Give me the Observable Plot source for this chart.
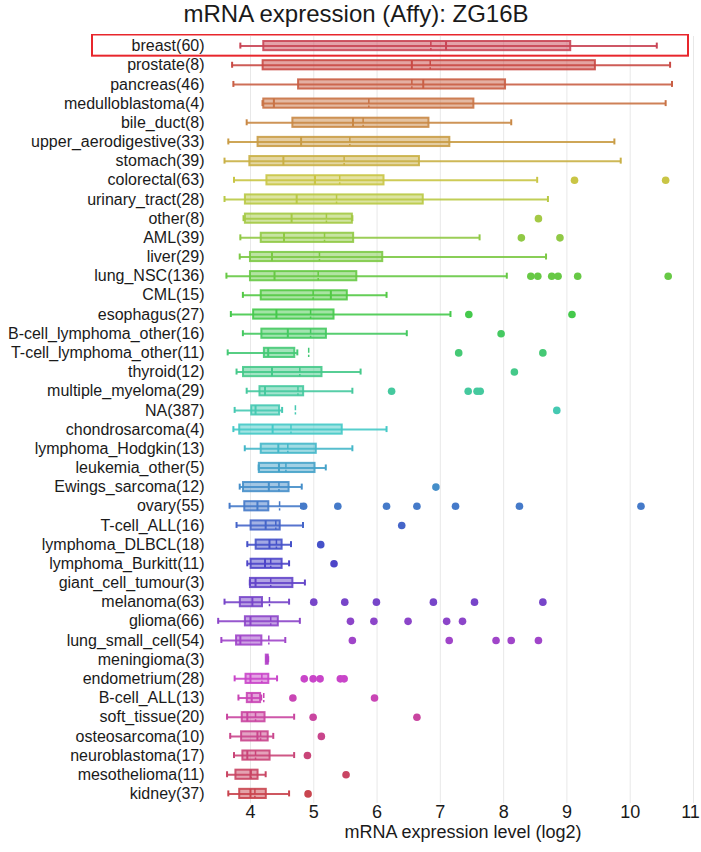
<!DOCTYPE html>
<html>
<head>
<meta charset="utf-8">
<script src="https://cdn.jsdelivr.net/npm/d3@7"></script>
<script src="https://cdn.jsdelivr.net/npm/@observablehq/plot@0.6"></script>
<style>
  html, body { margin: 0; padding: 0; background: #fff; }
  #title { height: 34px; line-height: 34px; font: 24px "Liberation Sans", Arial, sans-serif; color: #1a1a1a; text-align: center; padding-left: 11px; width: 690px; }
  #chart svg { display: block; }
</style>
</head>
<body>
<div id="title"></div>
<div id="chart"></div>
<script>
const title = "mRNA expression (Affy): ZG16B";
const xLabel = "mRNA expression level (log2)";
const xTicks = [4, 5, 6, 7, 8, 9, 10, 11];

const categories = ["breast","prostate","pancreas","medulloblastoma","bile_duct","upper_aerodigestive","stomach","colorectal","urinary_tract","other","AML","liver","lung_NSC","CML","esophagus","B-cell_lymphoma_other","T-cell_lymphoma_other","thyroid","multiple_myeloma","NA","chondrosarcoma","lymphoma_Hodgkin","leukemia_other","Ewings_sarcoma","ovary","T-cell_ALL","lymphoma_DLBCL","lymphoma_Burkitt","giant_cell_tumour","melanoma","glioma","lung_small_cell","meningioma","endometrium","B-cell_ALL","soft_tissue","osteosarcoma","neuroblastoma","mesothelioma","kidney"];
const counts = [60,8,46,4,8,33,39,63,28,8,39,29,136,15,27,16,11,12,29,387,4,13,5,12,55,16,18,11,3,63,66,54,3,28,13,20,10,17,11,37];

const q1 =          [4.21,4.20,4.76,4.21,4.67,4.12,3.99,4.26,3.92,3.92,4.17,4.00,4.00,4.17,4.05,4.18,4.22,3.89,4.15,4.02,3.83,4.17,4.14,3.89,3.91,4.01,4.09,4.01,4.00,3.84,3.92,3.78,4.25,3.93,3.95,3.87,3.86,3.88,3.77,3.83];
const median =      [7.09,6.55,6.73,4.37,5.62,4.80,4.52,5.02,4.73,4.65,4.53,4.34,4.38,5.27,4.41,4.59,4.28,4.34,4.23,4.08,4.35,4.44,4.45,4.29,4.11,4.24,4.30,4.23,4.08,4.03,4.00,3.84,4.265,4.00,4.02,3.95,4.11,3.95,4.00,4.00];
const q3 =          [9.06,9.45,8.03,7.53,6.82,7.15,6.67,6.11,6.73,5.61,5.63,6.09,5.68,5.53,5.32,5.20,4.70,5.13,4.84,4.46,5.45,5.04,5.02,4.61,4.29,4.47,4.50,4.50,4.67,4.19,4.44,4.18,4.28,4.29,4.16,4.23,4.28,4.31,4.12,4.25];
const mean =        [6.85,6.84,6.55,5.87,5.78,5.57,5.48,5.41,5.36,5.20,5.17,5.09,5.07,4.99,4.95,4.95,4.92,4.78,4.75,4.71,4.64,4.59,4.56,4.45,4.46,4.40,4.41,4.32,4.32,4.30,4.32,4.29,4.27,4.18,4.21,4.08,4.16,4.08,4.01,4.07];
const whiskerLow =  [3.84,3.71,3.73,4.19,3.94,3.65,3.59,3.74,3.59,3.89,3.84,3.83,3.62,3.88,3.69,3.88,3.64,3.78,3.94,3.75,3.73,3.91,4.13,3.83,3.67,3.78,3.95,3.95,3.99,3.59,3.49,3.54,4.25,3.75,3.81,3.63,3.68,3.74,3.63,3.65];
const whiskerHigh = [10.42,10.63,10.66,10.56,8.12,9.75,9.85,8.53,8.70,5.61,7.62,8.67,8.05,6.15,7.16,6.47,4.74,5.74,5.61,4.50,6.15,5.61,5.19,4.81,4.80,4.83,4.64,4.61,4.86,4.61,4.78,4.55,4.28,4.42,4.17,4.69,4.36,4.69,4.24,4.61];
const outliers = [
  [], [], [], [], [], [], [],
  [9.12, 10.56],
  [],
  [8.55],
  [8.28, 8.89],
  [],
  [8.43, 8.54, 8.76, 8.86, 9.17, 10.60],
  [],
  [7.45, 9.08],
  [7.96],
  [7.29, 8.62],
  [8.17],
  [6.23, 7.44, 7.58, 7.63],
  [8.84],
  [], [], [],
  [6.93],
  [4.84, 5.38, 6.15, 6.63, 7.24, 8.25, 10.17],
  [6.39],
  [5.11],
  [5.32],
  [],
  [5.00, 5.49, 5.99, 6.89, 7.54, 8.62],
  [5.58, 5.95, 6.49, 7.10, 7.35],
  [5.61, 7.14, 7.88, 8.12, 8.55],
  [],
  [4.85, 4.99, 5.10, 5.42, 5.48],
  [4.67, 5.96],
  [4.99, 6.63],
  [5.12],
  [4.90],
  [5.51],
  [4.91]
];

const labels = categories.map((c, i) => `${c}(${counts[i]})`);
const colors = labels.map((_, i) => d3.hsl((353 + i * 9.3) % 360, 0.55, 0.53).formatHex());
const rows = labels.map((label, i) => ({
  label, q1: q1[i], median: median[i], q3: q3[i], mean: mean[i], wl: whiskerLow[i], wh: whiskerHigh[i]
}));
const points = rows.flatMap((r, i) => outliers[i].map(v => ({label: r.label, v})));
const xDomain = [3.4, 11];

document.getElementById("title").textContent = title;

const chart = Plot.plot({
  width: 701,
  height: 818,
  marginLeft: 212,
  marginRight: 8,
  marginTop: 2,
  marginBottom: 49,
  style: {fontFamily: '"Liberation Sans", Arial, sans-serif', color: "#1a1a1a", background: "#fff"},
  x: {domain: xDomain, label: null},
  y: {domain: labels, padding: 0, round: false, label: null},
  color: {domain: labels, range: colors},
  marks: [
    Plot.gridX(xTicks, {stroke: "#e8e8e8", strokeOpacity: 1, strokeWidth: 1}),
    Plot.ruleY(rows, {y: "label", x1: "wl", x2: "wh", stroke: "label", strokeWidth: 2, strokeOpacity: 0.9}),
    Plot.tickX(rows, {x: "wl", y: "label", stroke: "label", strokeWidth: 2, insetTop: 6.6, insetBottom: 6.6}),
    Plot.tickX(rows, {x: "wh", y: "label", stroke: "label", strokeWidth: 2, insetTop: 6.6, insetBottom: 6.6}),
    Plot.barX(rows, {x1: "q1", x2: "q3", y: "label", fill: "label", fillOpacity: 0.5, stroke: "label", strokeWidth: 2, strokeOpacity: 0.9, insetTop: 5, insetBottom: 5}),
    Plot.tickX(rows, {x: "median", y: "label", stroke: "label", strokeWidth: 2, insetTop: 5, insetBottom: 5}),
    Plot.tickX(rows, {x: "mean", y: "label", stroke: "label", strokeWidth: 1.5, strokeDasharray: "5,2", insetTop: 5, insetBottom: 5}),
    Plot.dot(points, {x: "v", y: "label", fill: "label", r: 3.8}),
    Plot.rect([labels[0]], {y: d => d, x1: () => xDomain[0], x2: () => xDomain[1], fill: "none", stroke: "#e8262c", strokeWidth: 2, insetLeft: -120, insetRight: 5, insetTop: -1.5, insetBottom: -0.5}),
    Plot.axisY({tickSize: 0, tickPadding: 8, fontSize: 16, label: null}),
    Plot.axisX(xTicks.slice(0, -1), {tickSize: 0, tickPadding: 2, fontSize: 18, label: null}),
    Plot.axisX(xTicks.slice(-1), {tickSize: 0, tickPadding: 2, fontSize: 18, label: null, dx: -3}),
    Plot.text([xLabel], {frameAnchor: "bottom", lineAnchor: "middle", dy: 29, dx: 10, fontSize: 18})
  ]
});
document.getElementById("chart").appendChild(chart);
</script>
</body>
</html>
